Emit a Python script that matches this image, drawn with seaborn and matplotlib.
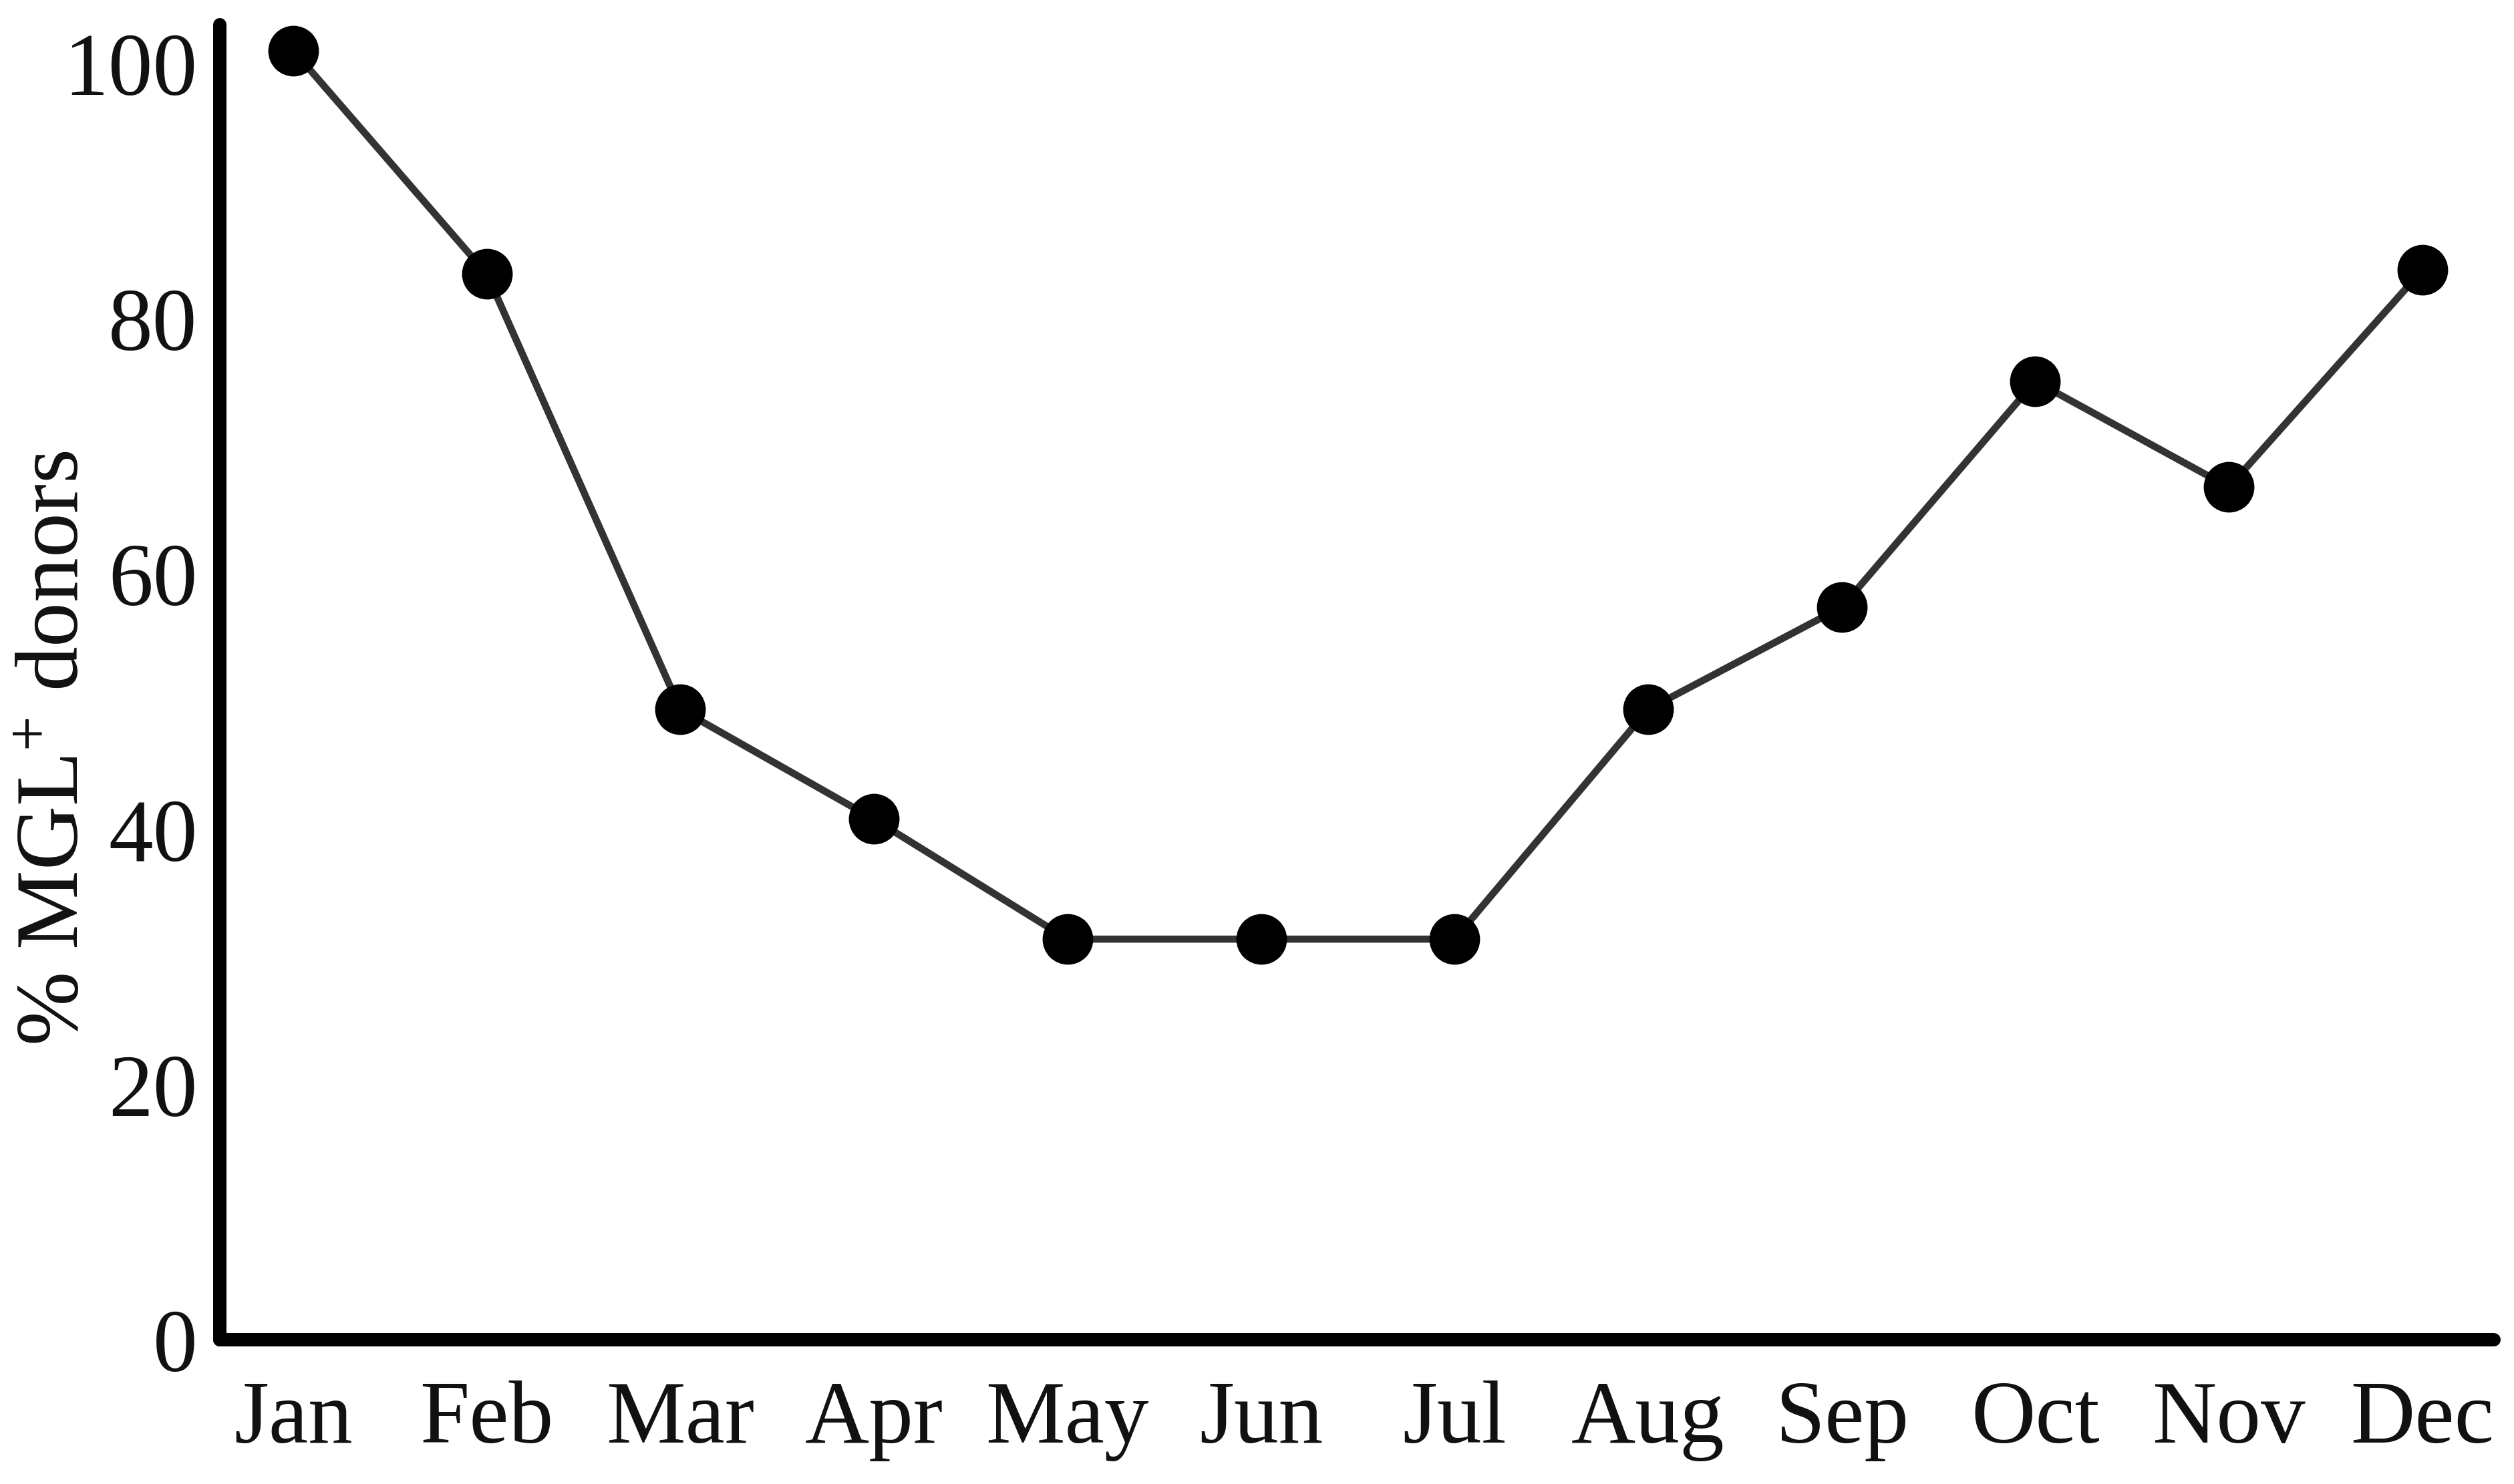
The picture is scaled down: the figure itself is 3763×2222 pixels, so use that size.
import pandas as pd
import matplotlib.pyplot as plt
import seaborn as sns

# --- data ---
months = ['Jan', 'Feb', 'Mar', 'Apr', 'May', 'Jun',
          'Jul', 'Aug', 'Sep', 'Oct', 'Nov', 'Dec']
pct_donors = [101, 83.5, 49.4, 40.8, 31.4, 31.4,
              31.4, 49.4, 57.4, 75.1, 66.8, 83.8]
y_ticks = [0, 20, 40, 60, 80, 100]

df = pd.DataFrame({'month': months, 'pct': pct_donors})

# --- styling ---
sns.set_theme(style="white")
plt.rcParams['font.family'] = ['Liberation Serif', 'DejaVu Serif']
plt.rcParams['mathtext.fontset'] = 'custom'
plt.rcParams['mathtext.rm'] = 'Liberation Serif'
plt.rcParams['mathtext.it'] = 'Liberation Serif'

fig = plt.figure(figsize=(15.68, 9.26), dpi=240)
ax = fig.add_axes([0.0874, 0.097, 0.9046, 0.886])

sns.lineplot(data=df, x='month', y='pct', ax=ax, sort=False,
             color='#333333', linewidth=3.2,
             marker='o', markersize=22, markerfacecolor='black',
             markeredgecolor='black')

ax.set_xlim(-0.38, 11.37)
ax.set_ylim(0, 103)
ax.set_yticks(y_ticks)
ax.set_yticklabels([str(t) for t in y_ticks])

ax.tick_params(axis='both', length=0, labelsize=40, colors='#111111')
ax.tick_params(axis='y', pad=10)
ax.tick_params(axis='x', pad=18)

ax.set_xlabel('')
ax.set_ylabel('% MGL$^{+}$ donors', fontsize=40, color='#111111')
ax.yaxis.set_label_coords(-0.054, 0.45)

for side in ['top', 'right']:
    ax.spines[side].set_visible(False)
for side in ['left', 'bottom']:
    ax.spines[side].set_linewidth(6)
    ax.spines[side].set_color('black')
    ax.spines[side].set_capstyle('round')

plt.savefig('out.png', dpi=240)
